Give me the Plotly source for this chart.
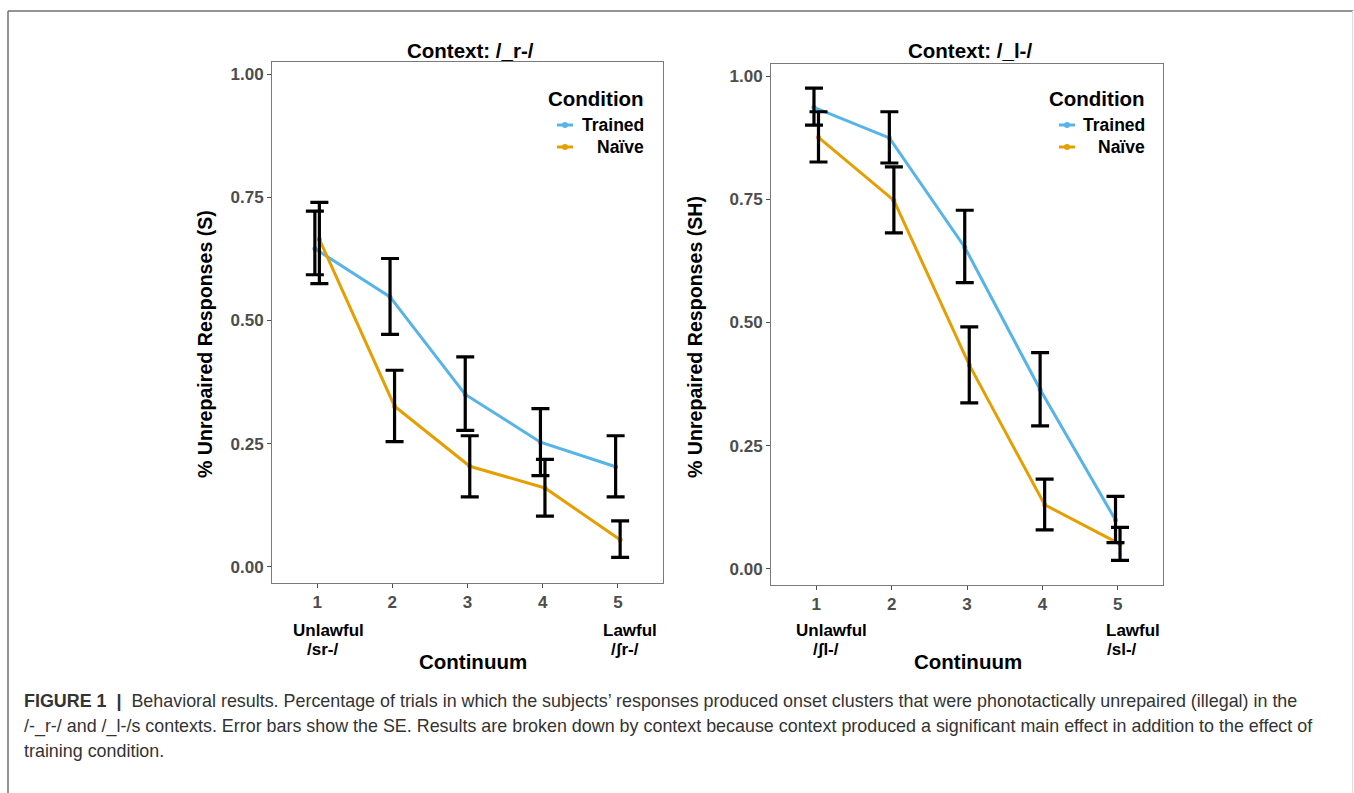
import plotly.graph_objects as go

# ---------------- data ----------------
continuum = [1, 2, 3, 4, 5]
tick_labels = ["1", "2", "3", "4", "5"]
y_ticks = [0.0, 0.25, 0.5, 0.75, 1.0]
y_tick_labels = ["0.00", "0.25", "0.50", "0.75", "1.00"]
conditions = ["Trained", "Naïve"]

# Context /_r-/
r_trained_mean = [0.646, 0.548, 0.350, 0.253, 0.203]
r_trained_low = [0.593, 0.472, 0.277, 0.185, 0.142]
r_trained_high = [0.722, 0.626, 0.426, 0.321, 0.266]
r_naive_mean = [0.665, 0.326, 0.204, 0.160, 0.055]
r_naive_low = [0.575, 0.254, 0.142, 0.103, 0.019]
r_naive_high = [0.740, 0.399, 0.266, 0.218, 0.093]

# Context /_l-/
l_trained_mean = [0.937, 0.875, 0.653, 0.364, 0.099]
l_trained_low = [0.901, 0.824, 0.581, 0.290, 0.053]
l_trained_high = [0.976, 0.928, 0.728, 0.439, 0.147]
l_naive_mean = [0.876, 0.748, 0.414, 0.130, 0.050]
l_naive_low = [0.826, 0.682, 0.337, 0.079, 0.017]
l_naive_high = [0.928, 0.816, 0.491, 0.182, 0.084]

panel_titles = ["Context: /_r-/", "Context: /_l-/"]
y_titles = ["% Unrepaired Responses (S)", "% Unrepaired Responses (SH)"]
end_labels = [(["Unlawful", "/sr-/"], ["Lawful", "/ʃr-/"]),
              (["Unlawful", "/ʃl-/"], ["Lawful", "/sl-/"])]

caption_lines = [
    "<b>FIGURE 1</b>  <b>|</b>  Behavioral results. Percentage of trials in which the subjects’ responses produced onset clusters that were phonotactically unrepaired (illegal) in the",
    "/-_r-/ and /_l-/s contexts. Error bars show the SE. Results are broken down by context because context produced a significant main effect in addition to the effect of",
    "training condition.",
]

# ---------------- layout constants ----------------
W, H = 1354, 793
BLUE = "#56B4E9"
ORANGE = "#E69F00"
FONT = "Liberation Sans, Arial, sans-serif"
DODGE = 0.03


def px(x):
    return x / W


def py(y):
    return 1 - y / H


fig = go.Figure()

panels = [
    dict(xa="x", ya="y", data=[(r_trained_mean, r_trained_low, r_trained_high),
                               (r_naive_mean, r_naive_low, r_naive_high)],
         dom_x=(272, 663), dom_y=(62, 583)),
    dict(xa="x2", ya="y2", data=[(l_trained_mean, l_trained_low, l_trained_high),
                                 (l_naive_mean, l_naive_low, l_naive_high)],
         dom_x=(771, 1163), dom_y=(64, 585)),
]
colors = [BLUE, ORANGE]
offsets = [-DODGE, DODGE]

for p in panels:
    for (mean, lo, hi), col, off in zip(p["data"], colors, offsets):
        xs = [c + off for c in continuum]
        fig.add_trace(go.Scatter(
            x=xs, y=mean, xaxis=p["xa"], yaxis=p["ya"], mode="lines+markers",
            line=dict(color=col, width=3), marker=dict(color=col, size=5),
            showlegend=False, hoverinfo="skip"))
    for (mean, lo, hi), col, off in zip(p["data"], colors, offsets):
        xs = [c + off for c in continuum]
        fig.add_trace(go.Scatter(
            x=xs, y=mean, xaxis=p["xa"], yaxis=p["ya"], mode="markers",
            marker=dict(color="rgba(0,0,0,0)", size=1),
            error_y=dict(type="data", symmetric=False,
                         array=[h - m for h, m in zip(hi, mean)],
                         arrayminus=[m - l for m, l in zip(mean, lo)],
                         color="black", thickness=3.2, width=9),
            showlegend=False, hoverinfo="skip"))

axis_common = dict(
    showgrid=False, zeroline=False, showline=True, mirror=True,
    linecolor="#7a7a7a", linewidth=1, ticks="outside", ticklen=4,
    tickcolor="#4d4d4d", tickwidth=1,
    tickfont=dict(family=FONT, size=17, color="#4d4d4d", weight="bold"),
)

layout = dict(
    width=W, height=H, margin=dict(l=0, r=0, t=0, b=0),
    paper_bgcolor="white", plot_bgcolor="white", showlegend=False,
)
for i, p in enumerate(panels):
    sfx = "" if i == 0 else "2"
    layout["xaxis" + sfx] = dict(
        axis_common, domain=[px(p["dom_x"][0]), px(p["dom_x"][1])],
        range=[0.4, 5.6], tickvals=continuum, ticktext=tick_labels,
        anchor="y" + sfx)
    layout["yaxis" + sfx] = dict(
        axis_common, domain=[py(p["dom_y"][1]), py(p["dom_y"][0])],
        range=[-0.033, 1.025], tickvals=y_ticks, ticktext=y_tick_labels,
        anchor="x" + sfx)
fig.update_layout(**layout)

ann = []
shapes = []
panel_text_pos = [
    dict(title_x=470, ytitle_x=205, ytitle_y=344, cont_x=473, unl_x=(328, 322),
         law_x=(630, 625), leg_right=646, leg_sym=(557, 573)),
    dict(title_x=970, ytitle_x=695, ytitle_y=337, cont_x=968, unl_x=(831, 826),
         law_x=(1133, 1122), leg_right=1147, leg_sym=(1059, 1075)),
]
for i, pt in enumerate(panel_text_pos):
    ann.append(dict(x=px(pt["title_x"]), y=py(50), xref="paper", yref="paper",
                    text="<b>%s</b>" % panel_titles[i], showarrow=False,
                    font=dict(family=FONT, size=20.5, color="black"),
                    xanchor="center", yanchor="middle"))
    ann.append(dict(x=px(pt["ytitle_x"]), y=py(pt["ytitle_y"]), xref="paper", yref="paper",
                    text="<b>%s</b>" % y_titles[i], showarrow=False, textangle=-90,
                    font=dict(family=FONT, size=19.6, color="black"),
                    xanchor="center", yanchor="middle"))
    ann.append(dict(x=px(pt["cont_x"]), y=py(661), xref="paper", yref="paper",
                    text="<b>Continuum</b>", showarrow=False,
                    font=dict(family=FONT, size=20.5, color="black"),
                    xanchor="center", yanchor="middle"))
    unl, law = end_labels[i]
    for txt, xx, yy in [(unl[0], pt["unl_x"][0], 630), (unl[1], pt["unl_x"][1], 649),
                        (law[0], pt["law_x"][0], 630), (law[1], pt["law_x"][1], 649)]:
        ann.append(dict(x=px(xx), y=py(yy), xref="paper", yref="paper",
                        text="<b>%s</b>" % txt, showarrow=False,
                        font=dict(family=FONT, size=17, color="black"),
                        xanchor="center", yanchor="middle"))
    ann.append(dict(x=px(pt["leg_right"]), y=py(99), xref="paper", yref="paper",
                    text="<b>Condition</b>", showarrow=False,
                    font=dict(family=FONT, size=20.5, color="black"),
                    xanchor="right", yanchor="middle"))
    for j, (cond, col, yy) in enumerate(zip(conditions, colors, [125, 147])):
        ann.append(dict(x=px(pt["leg_right"]), y=py(yy), xref="paper", yref="paper",
                        text="<b>%s</b>" % cond, showarrow=False,
                        font=dict(family=FONT, size=17.5, color="black"),
                        xanchor="right", yanchor="middle"))
        x0, x1 = pt["leg_sym"]
        shapes.append(dict(type="line", xref="paper", yref="paper",
                           x0=px(x0), x1=px(x1), y0=py(yy), y1=py(yy),
                           line=dict(color=col, width=3)))
        cx = (x0 + x1) / 2
        shapes.append(dict(type="circle", xref="paper", yref="paper",
                           x0=px(cx - 3), x1=px(cx + 3), y0=py(yy + 3), y1=py(yy - 3),
                           fillcolor=col, line=dict(color=col, width=0)))

for k, (line, yy) in enumerate(zip(caption_lines, [701, 726, 751])):
    ann.append(dict(x=px(22), y=py(yy), xref="paper", yref="paper",
                    text=line, showarrow=False, align="left",
                    font=dict(family=FONT, size=17.9, color="#333333"),
                    xanchor="left", yanchor="middle"))

shapes.append(dict(type="line", xref="paper", yref="paper", x0=px(8), x1=px(8),
                   y0=py(11), y1=0, line=dict(color="#707070", width=1.5)))
shapes.append(dict(type="line", xref="paper", yref="paper", x0=px(8), x1=px(1353),
                   y0=py(11), y1=py(11), line=dict(color="#707070", width=1.5)))
shapes.append(dict(type="line", xref="paper", yref="paper", x0=px(1352.5), x1=px(1352.5),
                   y0=py(11), y1=0, line=dict(color="#dcdcdc", width=1)))

fig.update_layout(annotations=ann, shapes=shapes)
fig.write_html("out.html", config={"displayModeBar": False},
               post_script="document.body.style.margin='0';")
